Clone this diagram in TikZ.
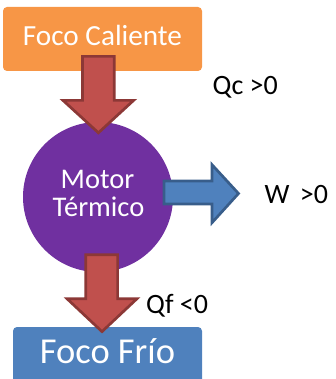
\documentclass[tikz,border=0pt]{standalone}
\usepackage{fontspec}
\setmainfont{Carlito}
\definecolor{hotc}{HTML}{F79646}
\definecolor{coldc}{HTML}{4F81BD}
\definecolor{motc}{HTML}{7030A0}
\definecolor{redf}{HTML}{C0504D}
\definecolor{redb}{HTML}{8C3836}
\definecolor{bluef}{HTML}{4F81BD}
\definecolor{blueb}{HTML}{385D8A}
\tikzset{
  boxshape/.style={rectangle, rounded corners=4pt, draw=none, inner sep=0pt},
  whitetxt/.style={text=white, inner sep=0pt, anchor=base},
  blacktxt/.style={text=black, inner sep=0pt, anchor=base west, font=\fontsize{28}{33}\selectfont},
  redarrow/.style={fill=redf, draw=redb, line width=2.7pt, line join=miter},
  bluearrow/.style={fill=bluef, draw=blueb, line width=2.7pt, line join=miter},
}
\begin{document}
\begin{tikzpicture}[x=1pt,y=-1pt]
\useasboundingbox (0,0) rectangle (335,379);
\clip (0,0) rectangle (335,379);
% boxes and engine
\node[boxshape, fill=hotc, minimum width=199pt, minimum height=64pt] (hot) at (102.5,39) {};
\node[boxshape, fill=coldc, minimum width=189pt, minimum height=80pt] (cold) at (107.5,367) {};
\node[circle, fill=motc, minimum size=150pt, inner sep=0pt] (motor) at (98,197) {};
% texts in boxes
\node[whitetxt, font=\fontsize{29.2}{34}\selectfont] (hott) at (102.5,45.7) {Foco Caliente};
\node[whitetxt, font=\fontsize{36.5}{42}\selectfont] (coldt) at (107.5,363.3) {Foco Frío};
% arrows
\draw[redarrow] (82.4,56.4) -- (114.3,56.4) -- (114.3,100.4) -- (133.6,100.4) -- (98.4,132.8) -- (63,100.4) -- (82.4,100.4) -- cycle;
\draw[redarrow] (85.7,254.7) -- (117.6,254.7) -- (117.6,298.7) -- (137,298.7) -- (102,331.6) -- (67,298.7) -- (85.7,298.7) -- cycle;
\draw[bluearrow] (164,181) -- (212,181) -- (212,164.7) -- (238.5,193.5) -- (212,222.7) -- (212,204) -- (164,204) -- cycle;
% engine text
\node[whitetxt, font=\fontsize{28.5}{32}\selectfont] (mot1) at (97.5,188) {Motor};
\node[whitetxt, font=\fontsize{28.5}{32}\selectfont] (mot2) at (98.5,216.7) {Térmico};
% labels
\node[blacktxt] (qc) at (212.5,95) {Qc >0};
\node[blacktxt] (w) at (264.5,203) {W\hspace{4pt} >0};
\node[blacktxt] (qf) at (146,313) {Qf <0};
\end{tikzpicture}
\end{document}
